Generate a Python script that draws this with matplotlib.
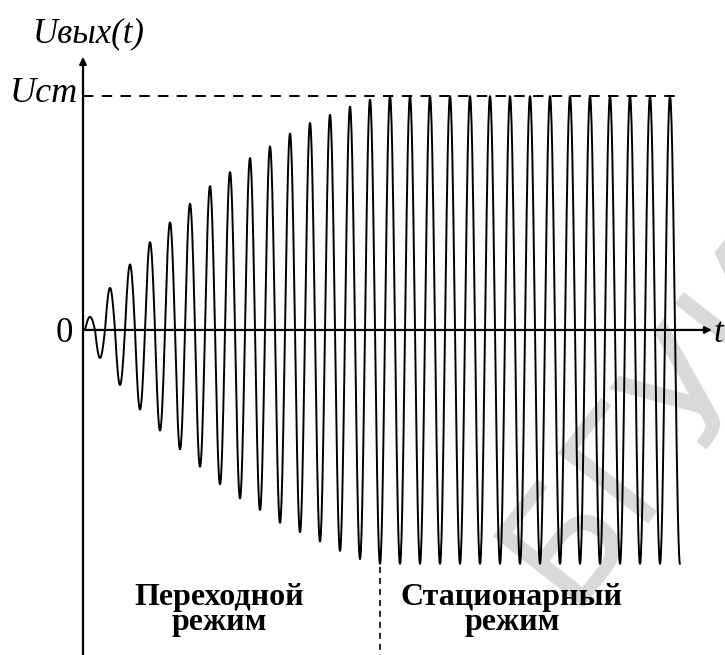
"""
Выходное напряжение: переходной и стационарный режимы.
Sine wave whose half-wave amplitude grows up to U_cm, then stays there.
"""

import matplotlib

matplotlib.use("Agg")
import matplotlib.pyplot as plt
import numpy as np

plt.rcParams["lines.scale_dashes"] = False

# half-wave amplitudes of the transient part, fraction of U_cm
# (peak, trough, peak, trough, ...)
TRANSIENT_AMPS = [
    0.056, 0.12, 0.18, 0.235, 0.28, 0.34, 0.375, 0.43, 0.46, 0.51,
    0.54, 0.585, 0.615, 0.66, 0.675, 0.72, 0.735, 0.77, 0.785, 0.825,
    0.84, 0.865, 0.885, 0.905, 0.92, 0.945, 0.955, 0.98, 0.985, 1.0,
]
STEADY_HALF_WAVES = 30      # half-waves at full amplitude
T_END = 29.75               # wave stops at the last trough (periods)
T_BOUNDARY = 14.75          # end of transient, periods

AXIS_Y_LABEL = "Uвых(t)"
AXIS_X_LABEL = "t"
LEVEL_LABEL = "Ucm"
ZERO_LABEL = "0"
TRANSIENT_LABEL = "Переходной\nрежим"
STEADY_LABEL = "Стационарный\nрежим"
WATERMARK = "БГУИР"


def build_wave():
    amps = TRANSIENT_AMPS + [1.0] * STEADY_HALF_WAVES
    ts, ys = [], []
    for i, a in enumerate(amps):
        t = np.linspace(i / 2, (i + 1) / 2, 30)
        t = t[t <= T_END]
        if t.size == 0:
            break
        ts.append(t)
        ys.append(a * np.sin(2 * np.pi * t))
    return np.concatenate(ts), np.concatenate(ys)


def main():
    fig = plt.figure(figsize=(7.25, 6.55), dpi=100)
    ax = fig.add_axes([0, 0, 1, 1])
    ax.set_xlim(-4.25, 32.0)
    ax.set_ylim(-1.389, 1.410)
    ax.axis("off")

    serif = ["Liberation Serif", "DejaVu Serif"]

    # faint stamp behind the plot
    ax.text(30.3, -0.22, WATERMARK, fontsize=112, family="DejaVu Sans",
            color="#d9d9d9", rotation=52,
            ha="center", va="center", zorder=0)

    t, y = build_wave()
    ax.plot(t, y, color="black", lw=1.4, zorder=3)

    # axes with arrows
    ax.annotate("", xy=(-0.1, 1.167), xytext=(-0.1, -1.40),
                arrowprops=dict(arrowstyle="-|>", lw=1.6, color="black",
                                mutation_scale=10, shrinkA=0, shrinkB=0),
                zorder=4)
    ax.annotate("", xy=(31.35, 0), xytext=(-0.1, 0),
                arrowprops=dict(arrowstyle="-|>", lw=1.6, color="black",
                                mutation_scale=10, shrinkA=0, shrinkB=0),
                zorder=4)

    # U_cm level and regime boundary
    ax.plot([-0.1, T_END], [1.0, 1.0], color="black", lw=1.4,
            dashes=(7.5, 6.0), zorder=2)
    ax.plot([T_BOUNDARY, T_BOUNDARY], [-1.013, -1.40], color="black", lw=1.2,
            dashes=(4.3, 3.6), zorder=2)

    ax.text(-2.6, 1.231, AXIS_Y_LABEL, fontsize=25, family=serif,
            style="italic", ha="left", va="baseline")
    ax.text(-3.75, 0.974, LEVEL_LABEL, fontsize=26, family=serif,
            style="italic", ha="left", va="baseline")
    ax.text(-1.05, -0.051, ZERO_LABEL, fontsize=25, family=serif,
            ha="center", va="baseline")
    ax.text(31.4, -0.05, AXIS_X_LABEL, fontsize=25, family=serif,
            style="italic", ha="left", va="baseline")

    for x, label in ((6.7, TRANSIENT_LABEL), (21.35, STEADY_LABEL)):
        ax.text(x, -1.08, label, fontsize=23, family=serif, weight="bold",
                ha="center", va="top", multialignment="center",
                linespacing=0.83)

    fig.savefig("out.png", dpi=100)
    plt.close(fig)


if __name__ == "__main__":
    main()
